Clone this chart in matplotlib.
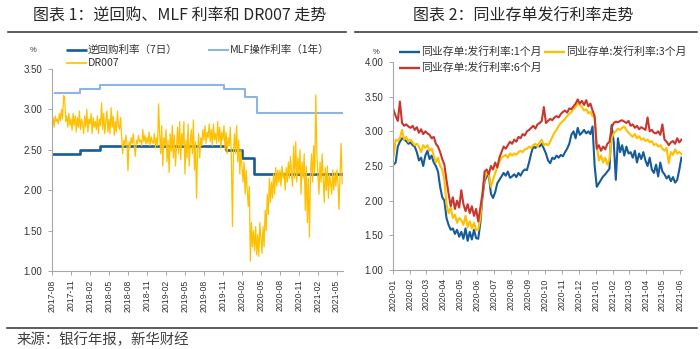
import numpy as np
import pandas as pd
import matplotlib
matplotlib.use("Agg")
import matplotlib.pyplot as plt
import matplotlib.dates as mdates
from matplotlib.lines import Line2D

CJK = ["Noto Sans CJK SC", "DejaVu Sans"]
LATIN = ["Liberation Sans", "DejaVu Sans"]

DARK_BLUE = "#175b98"
LIGHT_BLUE = "#8db4e2"
GOLD = "#ffc000"
RED = "#c8372d"

# ---- panel 1: policy rates and DR007 ----
repo_dates = ["2017-08-01", "2017-12-14", "2018-03-22", "2019-11-18",
              "2020-02-03", "2020-03-30", "2021-05-31"]
repo_rate = [2.45, 2.50, 2.55, 2.50, 2.40, 2.20, 2.20]

mlf_dates = ["2017-08-16", "2017-12-14", "2018-03-22", "2019-11-05",
             "2020-02-17", "2020-04-15", "2021-05-31"]
mlf_rate = [3.20, 3.25, 3.30, 3.25, 3.15, 2.95, 2.95]

# DR007, six readings per month, 2017-08 .. 2021-05
dr007 = [
    2.80, 2.90, 2.78, 2.92, 2.85, 2.88,  2.82, 2.95, 2.86, 3.00, 2.88, 3.17,
    3.15, 2.85, 2.92, 2.78, 2.95, 2.80,  2.88, 2.74, 2.95, 2.80, 2.92, 2.72,
    2.90, 2.78, 2.98, 2.75, 2.88, 2.82,
    2.70, 2.92, 2.78, 3.00, 2.72, 2.88,  2.82, 2.95, 2.70, 2.90, 2.78, 2.85,
    2.75, 2.92, 2.70, 2.88, 2.80, 3.08,  2.75, 2.95, 2.70, 2.85, 2.98, 2.72,
    2.88, 2.70, 3.02, 2.78, 2.92, 2.68,  2.85, 2.72, 2.98, 2.80, 2.75, 2.90,
    2.65, 2.45, 2.62, 2.55, 2.68, 2.58,  2.24, 2.60, 2.52, 2.65, 2.58, 2.70,
    2.55, 2.42, 2.62, 2.58, 2.68, 2.60,  2.62, 2.55, 2.75, 2.60, 2.68, 2.57,
    2.65, 2.58, 2.72, 2.55, 2.66, 2.60,  2.58, 2.70, 2.52, 2.65, 2.55, 3.07,
    2.70, 2.45, 2.80, 2.30, 2.65, 2.55,  2.75, 2.35, 2.62, 2.22, 2.70, 2.48,
    2.80, 2.40, 2.68, 2.30, 2.55, 2.78,  2.45, 2.85, 2.38, 2.70, 2.55, 2.85,
    2.20, 2.62, 2.40, 2.82, 2.30, 2.58,  2.75, 2.45, 2.87, 2.25, 2.60, 1.90,
    2.50, 2.70, 2.40, 2.65, 2.55, 2.75,  2.62, 2.80, 2.58, 2.72, 2.65, 2.82,
    2.60, 2.75, 2.55, 2.82, 2.62, 2.70,  2.58, 2.85, 2.60, 2.78, 2.52, 2.72,
    2.62, 2.80, 2.50, 2.72, 2.45, 2.65,  2.55, 2.78, 2.40, 1.55, 2.50, 2.70,
    2.45, 2.80, 2.35, 2.62, 2.20, 2.50,  2.30, 2.10, 2.35, 1.95, 2.25, 2.00,
    1.80, 2.05, 1.12, 1.60, 1.30, 1.50,  1.25, 1.55, 1.20, 1.45, 1.18, 1.60,
    1.40, 1.22, 1.55, 1.30, 1.75, 1.50,  1.95, 1.70, 2.15, 1.85, 2.10, 1.90,
    2.20, 1.95, 2.28, 2.05, 2.25, 2.10,  2.25, 2.05, 2.30, 2.15, 2.22, 2.00,
    2.28, 2.10, 2.35, 2.15, 2.42, 2.20,  2.05, 2.55, 2.15, 2.60, 2.10, 2.40,
    2.20, 2.50, 1.95, 2.35, 2.15, 2.45,  1.75, 2.30, 1.60, 2.15, 1.42, 2.20,
    2.45, 2.10, 2.55, 2.20, 3.18, 2.45,  2.20, 1.95, 2.35, 2.10, 2.45, 2.15,
    1.85, 2.28, 2.00, 2.30, 1.90, 2.20,  2.10, 1.95, 2.25, 2.00, 2.22, 2.05,
    2.25, 2.10, 1.76, 2.20, 2.58, 2.08,
]

# ---- panel 2: NCD issuance rates, eight readings per month ----
ncd_1m = [
    2.52, 2.55, 2.78, 2.85, 2.90, 2.88, 2.86, 2.82,
    2.84, 2.80, 2.78, 2.70, 2.58, 2.62, 2.50, 2.65,
    2.72, 2.60, 2.65, 2.55, 2.50, 2.42, 2.20, 2.05,
    2.00, 1.75, 1.65, 1.58, 1.60, 1.52, 1.58, 1.48,
    1.55, 1.45, 1.60, 1.42, 1.55, 1.44, 1.58, 1.46,
    1.45, 1.68, 2.05, 2.28, 2.35, 2.38, 2.10, 2.04,
    2.12, 2.25, 2.30, 2.35, 2.40, 2.36, 2.42, 2.33,
    2.35, 2.38, 2.34, 2.40, 2.36, 2.42, 2.45, 2.44,
    2.55, 2.68, 2.78, 2.76, 2.80, 2.78, 2.82, 2.75,
    2.68, 2.58, 2.54, 2.62, 2.60, 2.65, 2.62, 2.66,
    2.64, 2.70, 2.75, 2.82, 2.95, 3.00, 2.90, 3.05,
    2.95, 2.98, 3.02, 2.97, 3.00, 2.96, 3.07, 2.50,
    2.20, 2.25, 2.30, 2.35, 2.38, 2.42, 2.46, 3.09,
    2.85, 2.30, 2.90, 2.70, 2.80, 2.65, 2.78, 2.68,
    2.70, 2.62, 2.72, 2.55, 2.68, 2.60, 2.70, 2.58,
    2.50, 2.62, 2.45, 2.40, 2.52, 2.35, 2.55, 2.42,
    2.38, 2.32, 2.36, 2.28, 2.34, 2.26, 2.30, 2.45,
    2.62,
]
ncd_3m = [
    2.64, 2.88, 2.86, 2.90, 3.02, 2.88, 2.92, 2.85,
    2.88, 2.84, 2.80, 2.82, 2.78, 2.70, 2.80, 2.76,
    2.80, 2.72, 2.75, 2.65, 2.55, 2.62, 2.50, 2.45,
    2.30, 1.95, 1.82, 1.90, 1.75, 1.80, 1.68, 1.75,
    1.72, 1.65, 1.78, 1.62, 1.70, 1.60, 1.68, 1.58,
    1.58, 1.75, 2.10, 2.32, 2.40, 2.38, 2.20, 2.30,
    2.40, 2.48, 2.56, 2.62, 2.64, 2.66, 2.62, 2.68,
    2.65, 2.68, 2.66, 2.70, 2.72, 2.70, 2.74, 2.75,
    2.78, 2.76, 2.80, 2.82, 2.78, 2.84, 2.88, 2.80,
    2.82, 2.80, 2.85, 2.92, 2.98, 3.02, 3.08, 3.12,
    3.15, 3.18, 3.22, 3.25, 3.28, 3.32, 3.35, 3.41,
    3.38, 3.35, 3.30, 3.32, 3.26, 3.28, 3.22, 3.20,
    2.78, 2.58, 2.65, 2.55, 2.62, 2.52, 2.60, 2.90,
    2.97, 3.00, 3.04, 3.02, 3.05, 3.07, 3.02, 2.98,
    2.95, 2.92, 2.96, 2.90, 2.93, 2.88, 2.90, 2.86,
    2.88, 2.84, 2.86, 2.80, 2.82, 2.78, 2.80, 2.75,
    2.72, 2.76, 2.54, 2.70, 2.66, 2.74, 2.68, 2.70,
    2.67,
]
ncd_6m = [
    3.31, 3.22, 3.15, 3.43, 3.12, 3.08, 3.10, 3.07,
    3.05, 3.08, 3.02, 3.06, 2.98, 3.03, 2.96, 3.00,
    2.97, 2.95, 2.90, 2.92, 2.82, 2.78, 2.70, 2.60,
    2.52, 2.30, 2.10, 1.92, 2.05, 1.88, 2.00, 1.90,
    2.15, 1.95, 1.85, 1.95, 1.82, 1.92, 1.78, 1.88,
    1.70, 1.90, 2.10, 2.42, 2.45, 2.38, 2.50, 2.45,
    2.55, 2.48, 2.62, 2.70, 2.78, 2.75, 2.80, 2.85,
    2.82, 2.88, 2.85, 2.92, 2.90, 2.96, 2.94, 3.00,
    3.02, 3.05, 3.08, 3.04, 3.10, 3.12, 3.15, 3.35,
    3.12, 3.15, 3.18, 3.16, 3.20, 3.22, 3.20, 3.25,
    3.28, 3.30, 3.27, 3.33, 3.32, 3.36, 3.40, 3.46,
    3.40, 3.44, 3.38, 3.45, 3.36, 3.40, 3.30, 3.22,
    2.75, 2.80, 2.72, 2.78, 2.74, 2.82, 2.85, 3.05,
    3.12, 3.14, 3.13, 3.15, 3.16, 3.14, 3.12, 3.15,
    3.08, 3.10, 3.05, 3.08, 3.03, 3.06, 3.04, 3.02,
    3.20, 3.00, 3.02, 2.98, 2.97, 3.00, 2.95, 3.10,
    2.88, 2.85, 2.80, 2.84, 2.86, 2.82, 2.90, 2.84,
    2.88,
]

W, H = 700, 349


def fx(x):
    return x / W


def fy(y):
    return 1 - y / H


def add_axes(x0, y0, x1, y1):
    return fig.add_axes([fx(x0), fy(y1), fx(x1) - fx(x0), fy(y0) - fy(y1)])


def style_axes(ax, ymin, ymax):
    for side in ("top", "right"):
        ax.spines[side].set_visible(False)
    for side in ("left", "bottom"):
        ax.spines[side].set_color("#a6a6a6")
        ax.spines[side].set_linewidth(0.8)
    ax.set_ylim(ymin, ymax)
    ax.set_yticks(np.arange(ymin, ymax + 0.01, 0.5))
    ax.yaxis.set_major_formatter(plt.FormatStrFormatter("%.2f"))
    ax.tick_params(axis="both", colors="#a6a6a6", length=3, width=0.7,
                   labelcolor="#333333")
    ax.tick_params(axis="y", labelsize=7, pad=4)
    ax.tick_params(axis="x", labelsize=6.3, rotation=90, pad=3)
    for lab in ax.get_xticklabels() + ax.get_yticklabels():
        lab.set_family(LATIN)


def legend_item(x, y, color, lw, text, size):
    fig.add_artist(Line2D([fx(x), fx(x + 21)], [fy(y), fy(y)], color=color,
                          lw=lw, solid_capstyle="butt"))
    fig.text(fx(x + 22), fy(y), text, ha="left", va="center",
             fontsize=size, family=CJK, color="#333333")


fig = plt.figure(figsize=(7, 3.49), dpi=100)

# headings and rules
fig.text(fx(180), fy(16), "图表 1：逆回购、MLF 利率和 DR007 走势", ha="center",
         va="center", fontsize=11.5, fontweight="medium", family=CJK, color="#262626")
fig.text(fx(523), fy(16), "图表 2：同业存单发行利率走势", ha="center",
         va="center", fontsize=11.5, fontweight="medium", family=CJK, color="#262626")
for x0, x1 in ((8, 346), (355, 697)):
    fig.add_artist(Line2D([fx(x0), fx(x1)], [fy(32), fy(32)], color="#404040", lw=1.2))
fig.add_artist(Line2D([fx(7), fx(697)], [fy(328), fy(328)], color="#404040", lw=1.2))
fig.text(fx(17), fy(340), "来源：银行年报，新华财经", ha="left", va="center",
         fontsize=10.4, family=CJK, color="#404040")

# panel 1
ax1 = add_axes(52, 69, 343, 271)
ax1.plot(pd.to_datetime(repo_dates), repo_rate, drawstyle="steps-post",
         color=DARK_BLUE, lw=1.9)
ax1.plot(pd.to_datetime(mlf_dates), mlf_rate, drawstyle="steps-post",
         color=LIGHT_BLUE, lw=1.5)
dr_dates = pd.date_range("2017-08-01", "2021-05-28", periods=len(dr007))
ax1.plot(dr_dates, dr007, color=GOLD, lw=0.9)
ax1.set_xlim(pd.Timestamp("2017-08-01"), pd.Timestamp("2021-06-01"))
ax1.xaxis.set_major_locator(mdates.MonthLocator(bymonth=[2, 5, 8, 11]))
ax1.xaxis.set_major_formatter(mdates.DateFormatter("%Y-%m"))
style_axes(ax1, 1.0, 3.5)

fig.text(fx(33), fy(50), "%", ha="center", va="center", fontsize=5.5,
         family=LATIN, color="#333333")
legend_item(66, 50, DARK_BLUE, 1.9, "逆回购利率（7日）", 7.6)
legend_item(208, 50, LIGHT_BLUE, 1.5, "MLF操作利率（1年）", 7.6)
legend_item(66, 63, GOLD, 1.2, "DR007", 7.6)

# panel 2
ax2 = add_axes(393, 62, 682, 270)
ncd_dates = pd.date_range("2020-01-02", "2021-06-04", periods=len(ncd_1m))
ax2.plot(ncd_dates, ncd_1m, color=DARK_BLUE, lw=1.5)
ax2.plot(ncd_dates, ncd_3m, color=GOLD, lw=1.5)
ax2.plot(ncd_dates, ncd_6m, color=RED, lw=1.5)
ax2.set_xlim(pd.Timestamp("2020-01-01"), pd.Timestamp("2021-06-05"))
ax2.xaxis.set_major_locator(mdates.MonthLocator())
ax2.xaxis.set_major_formatter(mdates.DateFormatter("%Y-%m"))
style_axes(ax2, 1.0, 4.0)

fig.text(fx(376), fy(52), "%", ha="center", va="center", fontsize=5.5,
         family=LATIN, color="#333333")
legend_item(399, 52, DARK_BLUE, 1.7, "同业存单:发行利率:1个月", 7.8)
legend_item(544, 52, GOLD, 1.7, "同业存单:发行利率:3个月", 7.8)
legend_item(399, 68, RED, 1.7, "同业存单:发行利率:6个月", 7.8)

fig.savefig("out.png", dpi=100)
